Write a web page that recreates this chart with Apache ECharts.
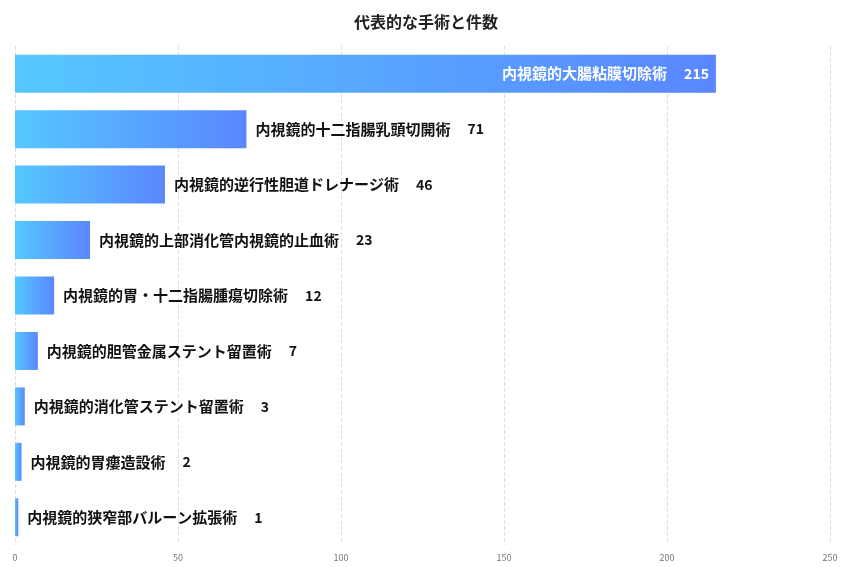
<!DOCTYPE html>
<html><head><meta charset="utf-8">
<script src="https://cdn.jsdelivr.net/npm/echarts@6/dist/echarts.min.js"></script>
<style>html,body{margin:0;padding:0;background:#fff}#c{width:852px;height:567px}</style>
</head><body><div id="c"></div>
<script>
const titleText = '代表的な手術と件数';
const categories = ['内視鏡的大腸粘膜切除術','内視鏡的十二指腸乳頭切開術','内視鏡的逆行性胆道ドレナージ術','内視鏡的上部消化管内視鏡的止血術','内視鏡的胃・十二指腸腫瘍切除術','内視鏡的胆管金属ステント留置術','内視鏡的消化管ステント留置術','内視鏡的胃瘻造設術','内視鏡的狭窄部バルーン拡張術'];
const values = [215,71,46,23,12,7,3,2,1];
const xTicks = [0,50,100,150,200,250];

const font = '"Noto Sans CJK JP", "Noto Sans", sans-serif';
const grad = new echarts.graphic.LinearGradient(0,0,1,0,[{offset:0,color:'#55c8ff'},{offset:1,color:'#5a86ff'}]);
const data = values.map((v,i)=>({
  value:v,
  label: i===0 ? {position:'insideRight', color:'#fff', distance:7} : {position:'right', color:'#111', distance:9}
}));
const chart = echarts.init(document.getElementById('c'));
chart.setOption({
  title:{text:titleText,left:'center',top:9,textStyle:{fontFamily:font,fontSize:16,fontWeight:'bold',color:'#222'}},
  grid:{left:15,right:22,top:46,bottom:22,containLabel:false},
  xAxis:{type:'value',min:xTicks[0],max:xTicks[xTicks.length-1],interval:50,
    axisLine:{show:false},axisTick:{show:false},
    axisLabel:{fontSize:9,color:'#777',fontFamily:font,margin:8},
    splitLine:{show:true,lineStyle:{type:'dashed',color:'#e0e0e0'}}},
  yAxis:{type:'category',inverse:true,data:categories,axisLine:{show:false},axisTick:{show:false},axisLabel:{show:false}},
  series:[{type:'bar',data:data,barWidth:38,
    itemStyle:{color:grad},
    label:{show:true,formatter:'{n|{b}}{v|{c}}',fontFamily:font,fontSize:15,fontWeight:'bold',
      rich:{n:{fontFamily:font,fontSize:15,fontWeight:'bold'},v:{fontFamily:font,fontSize:14,fontWeight:'bold',padding:[0,0,0,17]}}}}]
});
</script></body></html>
